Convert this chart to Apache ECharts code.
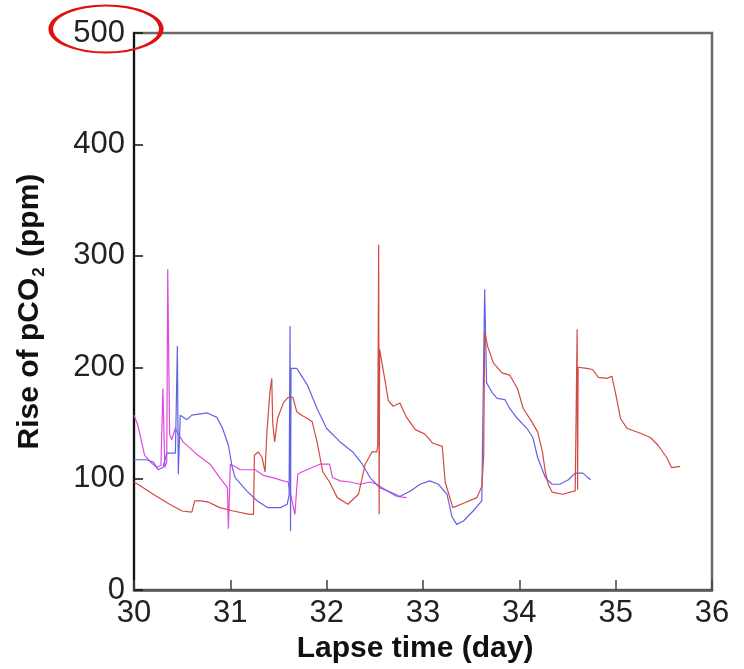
<!DOCTYPE html>
<html>
<head>
<meta charset="utf-8">
<script src="https://cdn.jsdelivr.net/npm/echarts@6/dist/echarts.min.js"></script>
<style>
  html, body { margin: 0; padding: 0; background: #fff; }
  #chart { width: 744px; height: 669px; }
</style>
</head>
<body>
<div id="chart"></div>
<script>
// Lapse time in days and pCO2 rise in ppm for three sensors
const redDays = [30.00, 30.04, 30.20, 30.37, 30.50, 30.60, 30.63, 30.70, 30.77, 30.89, 31.03, 31.20, 31.24,
  31.25, 31.29, 31.33, 31.36, 31.38, 31.41, 31.43, 31.44, 31.46, 31.49, 31.55, 31.60, 31.65, 31.69, 31.74,
  31.80, 31.85, 31.90, 31.96, 32.03, 32.11, 32.22, 32.33, 32.40, 32.47, 32.52, 32.53, 32.54, 32.545, 32.55,
  32.61, 32.64, 32.69, 32.76, 32.83, 32.92, 33.02, 33.10, 33.20, 33.23, 33.31, 33.42, 33.56, 33.61, 33.63,
  33.64, 33.67, 33.73, 33.82, 33.90, 33.98, 34.04, 34.13, 34.19, 34.24, 34.27, 34.30, 34.34, 34.45, 34.58,
  34.60, 34.605, 34.61, 34.63, 34.70, 34.76, 34.82, 34.91, 34.96, 35.01, 35.05, 35.12, 35.25, 35.36, 35.44,
  35.53, 35.58, 35.67];
const redPpm = [97, 95, 86, 77, 71, 70, 80, 80, 79, 74, 71, 68, 68,
  121, 124, 119, 106, 142, 177, 190, 150, 133, 154, 168, 173, 173, 160, 157,
  154, 151, 133, 106, 97, 83, 77, 86, 113, 124, 124, 130, 310, 68, 216,
  186, 170, 165, 168, 155, 144, 140, 132, 129, 97, 74, 78, 83, 93, 120,
  232, 219, 204, 195, 193, 181, 163, 151, 142, 124, 106, 95, 88, 86, 89,
  234, 90, 200, 199, 199, 198, 191, 190, 192, 172, 154, 145, 141, 137, 130,
  119, 110, 111];

const blueDays = [30.00, 30.03, 30.13, 30.20, 30.25, 30.30, 30.34, 30.43, 30.45, 30.46, 30.48, 30.55, 30.60,
  30.76, 30.86, 30.92, 30.98, 31.02, 31.05, 31.17, 31.28, 31.39, 31.52, 31.59, 31.61, 31.62, 31.625, 31.63,
  31.69, 31.80, 31.90, 32.00, 32.14, 32.27, 32.37, 32.45, 32.55, 32.66, 32.76, 32.87, 32.97, 33.07, 33.16,
  33.25, 33.30, 33.35, 33.42, 33.52, 33.61, 33.63, 33.64, 33.66, 33.72, 33.77, 33.85, 33.90, 33.98, 34.08,
  34.14, 34.19, 34.27, 34.34, 34.42, 34.51, 34.58, 34.66, 34.71, 34.74];
const bluePpm = [117, 117, 117, 115, 108, 110, 123, 123, 219, 104, 157, 153, 157,
  159, 155, 145, 130, 110, 101, 89, 80, 74, 74, 77, 85, 237, 53, 199,
  199, 184, 163, 145, 133, 124, 113, 101, 92, 88, 84, 89, 95, 98, 95,
  86, 66, 59, 62, 71, 80, 80, 270, 186, 177, 172, 171, 163, 154, 145,
  137, 119, 101, 95, 95, 99, 105, 105, 101, 99];

const magentaDays = [30.00, 30.04, 30.11, 30.17, 30.24, 30.28, 30.30, 30.32, 30.34, 30.35, 30.37, 30.39, 30.43,
  30.46, 30.51, 30.65, 30.79, 30.89, 30.97, 30.98, 31.00, 31.07, 31.10, 31.26, 31.34, 31.44, 31.55, 31.60,
  31.67, 31.70, 31.74, 31.85, 31.93, 32.03, 32.06, 32.14, 32.24, 32.35, 32.45, 32.52, 32.63, 32.73, 32.83];
const magentaPpm = [157, 148, 121, 115, 110, 112, 181, 110, 115, 288, 140, 135, 145,
  140, 133, 122, 113, 101, 92, 55, 113, 110, 108, 108, 103, 101, 98, 97,
  68, 104, 106, 110, 113, 113, 101, 98, 97, 95, 97, 95, 89, 84, 83];

const xTicks = [30, 31, 32, 33, 34, 35, 36];
const yTicks = [0, 100, 200, 300, 400, 500];

const pairs = (xs, ys) => xs.map((x, i) => [x, ys[i]]);

const font = "'Liberation Sans', Arial, Helvetica, sans-serif";
const chart = echarts.init(document.getElementById('chart'), null, { renderer: 'canvas' });

const lineSeries = (name, xs, ys, color) => ({
  name: name,
  type: 'line',
  data: pairs(xs, ys),
  showSymbol: false,
  symbol: 'none',
  smooth: false,
  lineStyle: { color: color, width: 1.2 },
  itemStyle: { color: color },
  animation: false
});

chart.setOption({
  backgroundColor: '#ffffff',
  animation: false,
  grid: {
    left: 134, top: 33, right: 32, bottom: 72,
    show: true, borderColor: '#6a6a6a', borderWidth: 2.5, backgroundColor: 'transparent'
  },
  xAxis: {
    type: 'value',
    min: xTicks[0], max: xTicks[xTicks.length - 1], interval: 1,
    name: 'Lapse time (day)',
    nameLocation: 'middle',
    nameGap: 40,
    nameTextStyle: {
      fontFamily: font, fontSize: 30, fontWeight: 'bold', color: '#111',
      padding: [0, 16, 0, 0], verticalAlign: 'top'
    },
    axisLine: { show: true, lineStyle: { color: '#555', width: 2.5 } },
    axisTick: { show: true, inside: true, length: 10, lineStyle: { color: '#444', width: 1.5 } },
    axisLabel: {
      fontFamily: font, fontSize: 31, color: '#222', margin: 8,
      formatter: v => (xTicks.indexOf(v) >= 0 ? String(v) : '')
    },
    splitLine: { show: false }
  },
  yAxis: {
    type: 'value',
    min: yTicks[0], max: yTicks[yTicks.length - 1], interval: 100,
    name: '{a|Rise of pCO}{s|2}{a| (ppm)}',
    nameLocation: 'middle',
    nameGap: 86,
    nameTextStyle: {
      fontFamily: font, color: '#111',
      rich: {
        a: { fontFamily: font, fontSize: 30, fontWeight: 'bold', color: '#111', lineHeight: 36 },
        s: { fontFamily: font, fontSize: 17, fontWeight: 'bold', color: '#111', verticalAlign: 'bottom', lineHeight: 36, padding: [14, 2, 0, 1] }
      }
    },
    axisLine: { show: true, lineStyle: { color: '#111', width: 2 } },
    axisTick: { show: true, inside: true, length: 9, lineStyle: { color: '#111', width: 1.5 } },
    axisLabel: {
      fontFamily: font, fontSize: 31, color: '#222', margin: 9,
      formatter: v => (yTicks.indexOf(v) >= 0 ? String(v) : '')
    },
    splitLine: { show: false }
  },
  series: [
    lineSeries('magenta', magentaDays, magentaPpm, '#e048e0'),
    lineSeries('blue', blueDays, bluePpm, '#6262e4'),
    lineSeries('red', redDays, redPpm, '#d24a42')
  ],
  graphic: [
    {
      type: 'circle',
      x: 106, y: 29,
      scaleX: 2.35, scaleY: 1,
      shape: { cx: 0, cy: 0, r: 23.5 },
      style: { fill: 'none', stroke: '#e01010', lineWidth: 2, strokeNoScale: true },
      z: 100
    }
  ]
});
</script>
</body>
</html>
